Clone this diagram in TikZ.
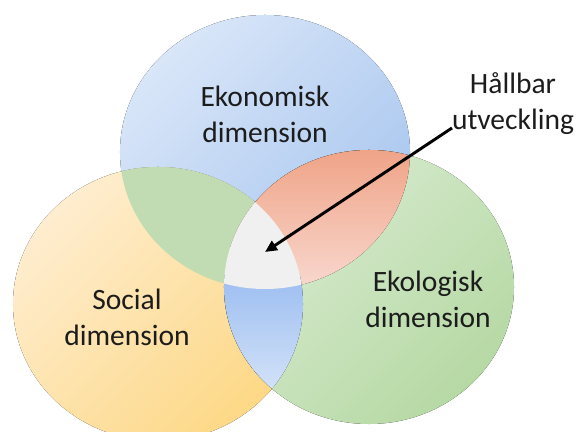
\documentclass[tikz,border=0pt]{standalone}
\usepackage{fontspec}
\setmainfont{Carlito}
\usepackage{tikz}
\usetikzlibrary{arrows.meta}
\definecolor{blaljus}{HTML}{D9E6F8}
\definecolor{blamork}{HTML}{A8C6EF}
\definecolor{gulljus}{HTML}{FEEDCF}
\definecolor{gulmork}{HTML}{FDD886}
\definecolor{gronljus}{HTML}{DAECD3}
\definecolor{gronmork}{HTML}{B6D9A4}
\definecolor{lingron}{HTML}{C1DCB2}
\definecolor{laxtopp}{HTML}{EFA285}
\definecolor{laxbotten}{HTML}{F9DCD4}
\definecolor{lintopp}{HTML}{9CBEF1}
\definecolor{linbotten}{HTML}{DCE8F9}
\definecolor{mittgra}{HTML}{F0F0F0}
\definecolor{textsvart}{HTML}{1C1C1C}
\newcommand{\ekonomi}{(265,152) ellipse [x radius=4.35cm, y radius=4.11cm]}
\newcommand{\social}{(158,304) ellipse [x radius=4.35cm, y radius=4.11cm]}
\newcommand{\ekologi}{(369,287) ellipse [x radius=4.35cm, y radius=4.11cm]}

\begin{document}
\begin{tikzpicture}[x=0.03cm,y=-0.03cm,
    etikett/.style={font=\fontsize{25.2}{30.7}\selectfont,text=textsvart,align=center},
    pil/.style={-{Triangle[length=3.6mm,width=3.2mm]},line width=2.5pt,black}]
    \clip (0,0) rectangle (578,432);
    % ===== the three dimensions =====
    \fill[top color=blaljus,bottom color=blamork,shading angle=45] \ekonomi;
    \fill[top color=gulljus,bottom color=gulmork,shading angle=45] \social;
    \fill[top color=gronljus,bottom color=gronmork,shading angle=45] \ekologi;
    % ===== overlaps =====
    \begin{scope}
      \clip \ekonomi;
      \fill[lingron] \social;
    \end{scope}
    \begin{scope}
      \clip \ekonomi; \clip \ekologi;
      \fill[top color=laxtopp,bottom color=laxbotten] (230,145) rectangle (420,300);
    \end{scope}
    \begin{scope}
      \clip \social; \clip \ekologi;
      \fill[top color=lintopp,bottom color=linbotten] (215,275) rectangle (315,410);
    \end{scope}
    \begin{scope}
      \clip \ekonomi; \clip \social;
      \fill[mittgra] \ekologi;
    \end{scope}
    % ===== labels =====
    \node[etikett] (ekonomisk) at (265,114) {Ekonomisk\\dimension};
    \node[etikett] (socialdim) at (127,317) {Social\\dimension};
    \node[etikett] (ekologisk) at (428,299) {Ekologisk\\dimension};
    \node[etikett] (hallbar) at (513,104) {Hållbar\\utveckling};
    \coordinate (pilstart) at (452,128);
    \coordinate (mitt) at (265,252);
    \draw[pil] (pilstart) -- (mitt);
\end{tikzpicture}
\end{document}
